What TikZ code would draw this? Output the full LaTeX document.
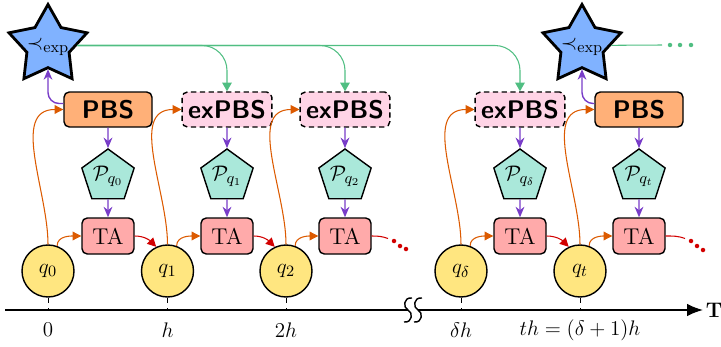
\documentclass[tikz,border=0pt]{standalone}
\usepackage{amsmath}
\usetikzlibrary{shapes.geometric,arrows.meta}
\definecolor{starblue}{RGB}{128,178,255}
\definecolor{pbsorange}{RGB}{255,176,120}
\definecolor{expink}{RGB}{255,212,230}
\definecolor{polyteal}{RGB}{170,232,218}
\definecolor{tared}{RGB}{255,170,170}
\definecolor{qyellow}{RGB}{255,230,128}
\definecolor{linegreen}{RGB}{80,190,130}
\definecolor{lineorange}{RGB}{220,90,0}
\definecolor{linepurple}{RGB}{120,60,200}
\definecolor{linered}{RGB}{210,0,0}
\tikzset{
  qnode/.style={circle,draw,thick,fill=qyellow,minimum size=1.04cm,inner sep=0pt},
  tabox/.style={rectangle,rounded corners=3pt,draw,thick,fill=tared,minimum width=1.04cm,minimum height=0.72cm},
  pbsbox/.style={rectangle,rounded corners=3pt,draw,thick,fill=pbsorange,minimum width=1.76cm,minimum height=0.7cm,font=\fontsize{14.5pt}{17pt}\selectfont\sffamily\bfseries},
  expbsbox/.style={pbsbox,fill=expink,densely dashed},
  policy/.style={regular polygon,regular polygon sides=5,draw,thick,fill=polyteal,minimum size=1.1cm,inner sep=0pt},
  order/.style={star,star points=5,star point ratio=1.85,draw,ultra thick,fill=starblue,minimum size=1.64cm,inner sep=0pt,label={[yshift=-1pt]center:{$\prec_{\mathrm{exp}}$}}},
  purp/.style={linepurple,thick,-{Stealth[length=6pt,width=5pt]}},
  orng/.style={lineorange,semithick,-{Triangle[length=5pt,width=5pt]}},
  grnline/.style={linegreen,semithick},
  grn/.style={grnline,-{Triangle[length=5pt,width=5.5pt]}},
  rdline/.style={linered,semithick},
  rd/.style={rdline,-{Triangle[length=5pt,width=5pt]}}
}
\begin{document}
\begin{tikzpicture}[font=\fontsize{13pt}{15pt}\selectfont]
  \useasboundingbox (0,0) rectangle (14.42,6.92);
  \node[qnode] (q0) at (0.96,1.5) {$q_0$};
  \node[qnode] (q1) at (3.35,1.5) {$q_1$};
  \node[qnode] (q2) at (5.72,1.5) {$q_2$};
  \node[qnode] (qd) at (9.22,1.5) {$q_\delta$};
  \node[qnode] (qt) at (11.6,1.5) {$q_t$};
  \node[tabox] (ta0) at (2.16,2.2) {TA};
  \node[tabox] (ta1) at (4.54,2.2) {TA};
  \node[tabox] (ta2) at (6.9,2.2) {TA};
  \node[tabox] (tad) at (10.4,2.2) {TA};
  \node[tabox] (tat) at (12.78,2.2) {TA};
  \node[policy] (p0) at (2.16,3.39) {$\mathcal{P}_{q_0}$};
  \node[policy] (p1) at (4.54,3.39) {$\mathcal{P}_{q_1}$};
  \node[policy] (p2) at (6.9,3.39) {$\mathcal{P}_{q_2}$};
  \node[policy] (pd) at (10.4,3.39) {$\mathcal{P}_{q_\delta}$};
  \node[policy] (pt) at (12.78,3.39) {$\mathcal{P}_{q_t}$};
  \node[pbsbox] (b0) at (2.16,4.73) {PBS};
  \node[expbsbox] (b1) at (4.54,4.73) {exPBS};
  \node[expbsbox] (b2) at (6.9,4.73) {exPBS};
  \node[expbsbox] (bd) at (10.4,4.73) {exPBS};
  \node[pbsbox] (bt) at (12.78,4.73) {PBS};
  \node[order] (s0) at (0.96,6.01) {};
  \node[order] (st) at (11.64,6.01) {};
  \draw[grn,rounded corners=0.5cm] (s0) -| (b1);
  \draw[grn,rounded corners=0.5cm] (s0) -| (b2);
  \draw[grn,rounded corners=0.5cm] (s0) -| (bd);
  \coordinate (ge) at (13.24,6.02);
  \draw[grnline] (st) -- (ge);
  \foreach \x in {13.4,13.6,13.82}
    \fill[linegreen] (\x,6.02) circle (0.045);
  \draw[purp] (b0) -- (p0);
  \draw[purp] (p0) -- (ta0);
  \draw[purp] (b1) -- (p1);
  \draw[purp] (p1) -- (ta1);
  \draw[purp] (b2) -- (p2);
  \draw[purp] (p2) -- (ta2);
  \draw[purp] (bd) -- (pd);
  \draw[purp] (pd) -- (tad);
  \draw[purp] (bt) -- (pt);
  \draw[purp] (pt) -- (tat);
  \draw[purp,rounded corners=0.22cm] ([yshift=0.12cm]b0.west) -| (s0);
  \draw[purp,rounded corners=0.22cm] ([yshift=0.12cm]bt.west) -| (st);
  \draw[orng] (q0.north) to[out=90,in=180] (b0.west);
  \draw[orng] (q0.70) to[out=90,in=180] (ta0.west);
  \draw[orng] (q1.north) to[out=90,in=180] (b1.west);
  \draw[orng] (q1.70) to[out=90,in=180] (ta1.west);
  \draw[orng] (q2.north) to[out=90,in=180] (b2.west);
  \draw[orng] (q2.70) to[out=90,in=180] (ta2.west);
  \draw[orng] (qd.north) to[out=90,in=180] (bd.west);
  \draw[orng] (qd.70) to[out=90,in=180] (tad.west);
  \draw[orng] (qt.north) to[out=90,in=180] (bt.west);
  \draw[orng] (qt.70) to[out=90,in=180] (tat.west);
  \draw[rd] (ta0.east) to[out=0,in=135] (q1.115);
  \draw[rd] (ta1.east) to[out=0,in=135] (q2.115);
  \draw[rd] (tad.east) to[out=0,in=135] (qt.115);
  \coordinate (c2) at (7.76,2.15);
  \coordinate (ct) at (13.7,2.15);
  \draw[rdline] (ta2.east) to[out=0,in=160] (c2);
  \draw[rdline] (tat.east) to[out=0,in=160] (ct);
  \foreach \x/\y in {7.88/2.1,8.0/2.0,8.12/1.94,13.82/2.1,13.94/2.0,14.06/1.92}
    \fill[linered] (\x,\y) circle (0.045);
  \coordinate (ax0) at (0.1,0.72);
  \coordinate (brk0) at (8.16,0.72);
  \coordinate (brk1) at (8.36,0.72);
  \node[anchor=west,inner sep=1.5pt] (T) at (14.06,0.72) {$\mathbf{T}$};
  \draw[thick] (ax0) -- (brk0);
  \draw[thick,-{Latex[length=9pt,width=7pt]}] (brk1) -- (T.west);
  \foreach \x in {8.16,8.36}
    \draw[thick] (\x+0.08,0.96) .. controls (\x-0.1,0.98) and (\x-0.1,0.76) .. (\x,0.72)
      .. controls (\x+0.1,0.68) and (\x+0.1,0.46) .. (\x-0.08,0.48);
  \draw[dashed] (q0.south) -- (q0 |- ax0);
  \draw[dashed] (q1.south) -- (q1 |- ax0);
  \draw[dashed] (q2.south) -- (q2 |- ax0);
  \draw[dashed] (qd.south) -- (qd |- ax0);
  \draw[dashed] (qt.south) -- (qt |- ax0);
  \node (l0) at (0.96,0.32) {$0$};
  \node (l1) at (3.35,0.32) {$h$};
  \node (l2) at (5.72,0.32) {$2h$};
  \node (ld) at (9.22,0.32) {$\delta h$};
  \node (lt) at (11.6,0.32) {$th=(\delta+1)h$};
\end{tikzpicture}
\end{document}
